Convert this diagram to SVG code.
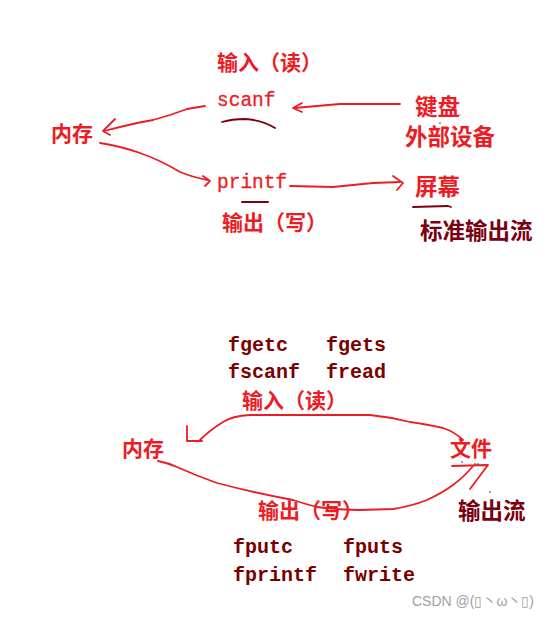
<svg xmlns="http://www.w3.org/2000/svg" width="558" height="620" viewBox="0 0 558 620">
<style>
.cn{font-family:"Noto Sans CJK SC","Noto Sans",sans-serif;font-size:21px;font-weight:bold;fill:#ed1c24}
.cnd{font-family:"Noto Sans CJK SC","Noto Sans",sans-serif;font-size:22.5px;font-weight:bold;fill:#7a0010}
.mono{font-family:"Liberation Mono","DejaVu Sans Mono",monospace;font-size:19.5px;fill:#ed1c24;stroke:#ed1c24;stroke-width:0.3}
.fn{font-family:"Liberation Mono","DejaVu Sans Mono",monospace;font-size:20px;fill:#7a0000;font-weight:bold}
.ln{fill:none;stroke:#ed1c24;stroke-width:1.8;stroke-linecap:round;stroke-linejoin:round}
.dk{fill:none;stroke:#7a0010;stroke-width:1.8;stroke-linecap:round;stroke-linejoin:round}
.wm{font-family:"Liberation Sans","Noto Sans CJK SC",sans-serif;font-size:14px;fill:#a0a0a0}
.big{font-size:22.5px}
</style>
<rect width="558" height="620" fill="#ffffff"/>

<!-- top section nodes -->
<g id="top-input-label"><text class="cn" x="217" y="70">输入（读）</text></g>
<g id="scanf"><text class="mono" x="217" y="106">scanf</text></g>
<g id="top-memory"><text class="cn" x="51" y="141">内存</text></g>
<g id="keyboard"><text class="cn big" x="415" y="115">键盘</text>
<text class="cn big" x="405" y="145">外部设备</text></g>
<g id="printf"><text class="mono" x="217" y="188">printf</text></g>
<g id="screen"><text class="cn big" x="415" y="195">屏幕</text></g>
<g id="top-output-label"><text class="cn" x="222" y="230">输出（写）</text></g>
<g id="stdout-label"><text class="cnd" x="420" y="239">标准输出流</text></g>

<!-- bottom section nodes -->
<g id="input-funcs">
<text class="fn" x="228" y="351">fgetc</text>
<text class="fn" x="326" y="351">fgets</text>
<text class="fn" x="228" y="378">fscanf</text>
<text class="fn" x="326" y="378">fread</text>
</g>
<g id="bottom-input-label"><text class="cn" x="242" y="408">输入（读）</text></g>
<g id="bottom-memory"><text class="cn" x="122" y="456">内存</text></g>
<g id="file"><text class="cn" x="450" y="456">文件</text></g>
<g id="bottom-output-label"><text class="cn" x="258" y="518">输出（写）</text></g>
<g id="output-stream-label"><text class="cnd" x="458" y="519">输出流</text></g>
<g id="output-funcs">
<text class="fn" x="233" y="553">fputc</text>
<text class="fn" x="343" y="553">fputs</text>
<text class="fn" x="233" y="581">fprintf</text>
<text class="fn" x="343" y="581">fwrite</text>
</g>

<!-- connectors -->
<g id="connectors">
<!-- scanf -> memory -->
<path class="ln" d="M205,106 L187,109 L170,115 L153,120 L137,123 L120,127 L104,131"/>
<path class="ln" d="M115,119 L103,131 L110,135"/>
<!-- keyboard -> scanf -->
<path class="ln" d="M400,104 L340,104 L317,106 L294,108"/>
<path class="ln" d="M302,103 L293,108 L302,112"/>
<!-- memory -> printf -->
<path class="ln" d="M100,143 Q120,146 140,153 Q160,160 180,172 Q195,178 208,180"/>
<path class="ln" d="M203,176 L210,181 L205,186"/>
<!-- printf -> screen -->
<path class="ln" d="M290,186 L333,187 L373,183 L400,182"/>
<path class="ln" d="M393,176 L403,183 L397,190"/>
<!-- dark underlines -->
<path class="dk" d="M222,122 Q232,119 245,119 Q262,120 275,128"/>
<path class="dk" d="M242,202 L268,202"/>
<path class="dk" d="M413,207 L448,206 L451,207"/>
<!-- file -> memory (read) -->
<path class="ln" d="M463,440 Q455,432 443,428 Q425,424 410,422 Q390,417 370,415 L250,415 Q232,416 223,422 Q210,430 200,440"/>
<path class="ln" d="M187,426 L187,441 L202,441"/>
<!-- memory -> file (write) -->
<path class="ln" d="M158,461 Q168,463 177,467 Q197,476 217,483 Q255,493 293,500 Q305,504 317,507 Q340,510 360,510 L393,509 Q412,506 427,500 Q442,493 453,485 Q465,476 473,466"/>
<path class="ln" d="M452,466 L488,465 L470,489"/>
</g>
<g id="dots" fill="#7a0010">
<circle cx="440" cy="123" r="0.8"/><circle cx="460" cy="115" r="0.6"/>
<circle cx="462" cy="462" r="0.8"/><circle cx="475" cy="464" r="0.8"/><circle cx="478" cy="464" r="0.8"/><circle cx="490" cy="492" r="0.8"/>
</g>
<g id="watermark"><text class="wm" x="412" y="606">CSDN @(▯丶ω丶▯)</text></g>
</svg>
